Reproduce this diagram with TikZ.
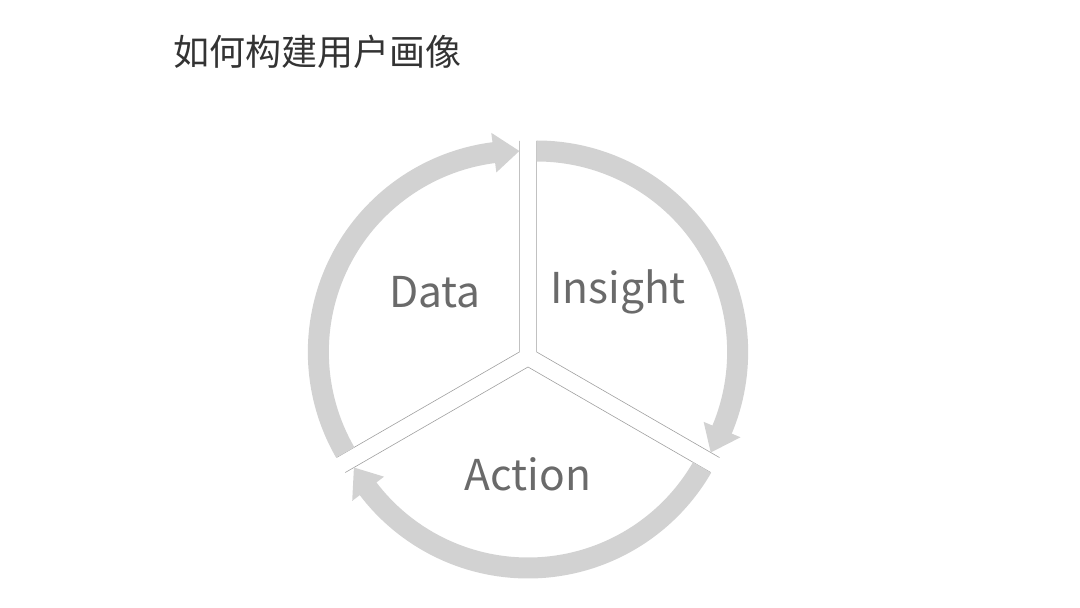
\documentclass[tikz,border=0pt]{standalone}
\usepackage{fontspec}
\setmainfont{Noto Sans CJK SC}
\usetikzlibrary{calc}
\definecolor{ring}{HTML}{D2D2D2}
\definecolor{edge}{HTML}{A0A0A0}
\definecolor{lbl}{HTML}{6A6A6A}
\tikzset{
  band/.style={draw=ring,line width=21pt},
  head/.style={fill=ring},
  divider/.style={draw=edge,line width=0.6pt},
  word/.style={text=lbl,font=\fontsize{42.5}{42.5}\selectfont},
}
\begin{document}
\begin{tikzpicture}[x=1pt,y=1pt]
\useasboundingbox (0,0) rectangle (1080,608);
\node[anchor=west,text=black!80,font=\fontsize{36}{36}\selectfont] (title) at (170,556) {如何构建用户画像};
\coordinate (C) at (528,251);
\foreach \b/\n in {150/D,30/I,270/A}{
  \pgfmathsetmacro{\aone}{\b+60}
  \pgfmathsetmacro{\atwo}{\b-60}
  \pgfmathsetmacro{\aend}{\b-60+7}
  \coordinate (K\n) at ($(C)+(\b:10)$);
  \draw[divider] ($(K\n)+(\aone:211)$) -- (K\n) -- ($(K\n)+(\atwo:211)$);
  \draw[band] ($(K\n)+(\aone:201)$) arc[start angle=\aone,end angle=\aend,radius=201];
  \fill[head] ($(K\n)+(\aend+0.3:221)$) -- ($(K\n)+(\atwo:201)$) -- ($(K\n)+(\aend+0.3:181)$) -- cycle;
}
\node[word] (data) at (435,316) {Data};
\node[word] (insight) at (618,316) {Insight};
\node[word] (action) at (528,134) {Action};
\end{tikzpicture}
\end{document}
